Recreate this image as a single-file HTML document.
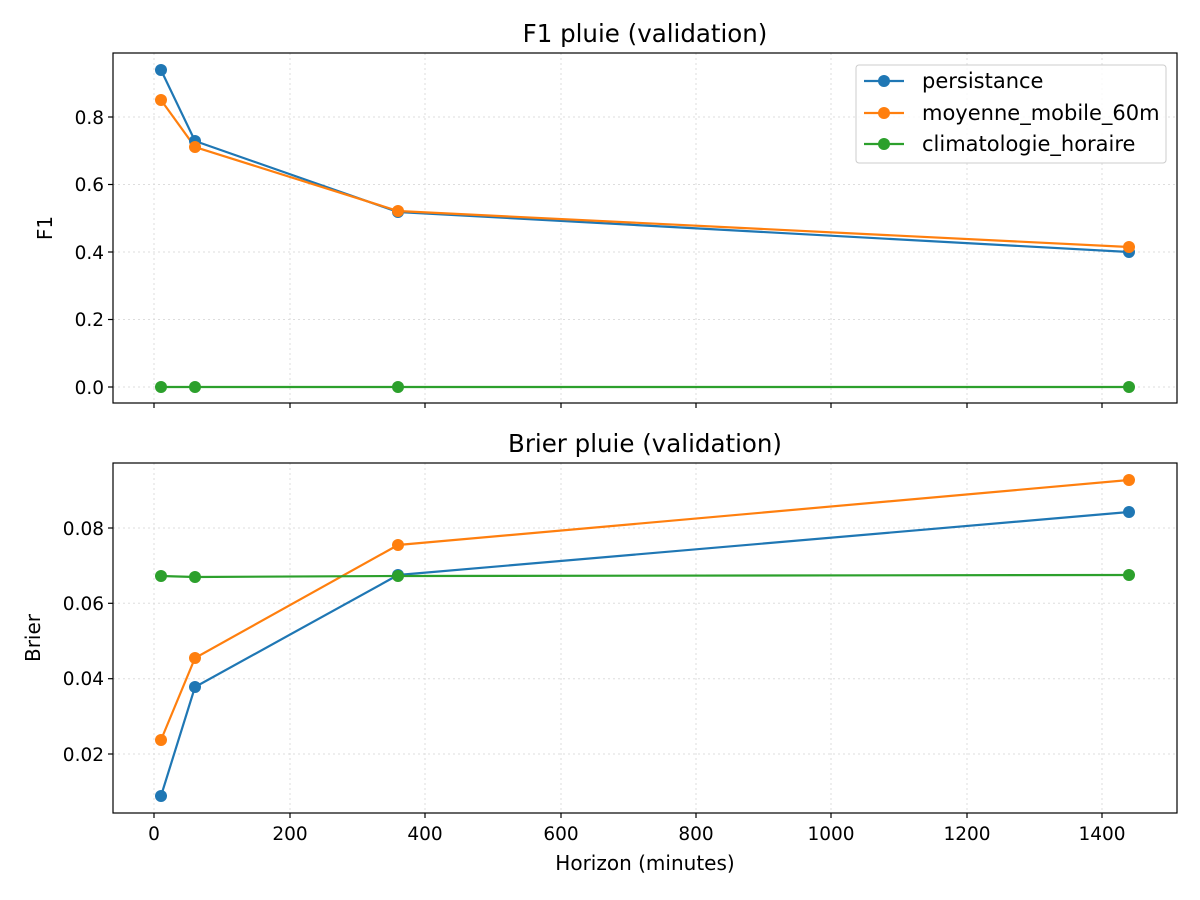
<!DOCTYPE html>
<html><head><meta charset="utf-8"><style>body{margin:0;background:#fff}svg{display:block}text{font-family:"DejaVu Sans","Liberation Sans",sans-serif;fill:#000}</style></head><body>
<svg width="1200" height="900" xmlns="http://www.w3.org/2000/svg">
<rect width="1200" height="900" fill="#fff"/>
<g stroke="#ddd" stroke-width="1" stroke-dasharray="2,3">
<line x1="154" y1="53" x2="154" y2="403"/><line x1="290" y1="53" x2="290" y2="403"/><line x1="425" y1="53" x2="425" y2="403"/><line x1="561" y1="53" x2="561" y2="403"/><line x1="696" y1="53" x2="696" y2="403"/><line x1="831" y1="53" x2="831" y2="403"/><line x1="967" y1="53" x2="967" y2="403"/><line x1="1102" y1="53" x2="1102" y2="403"/>
<line x1="113" y1="387" x2="1177" y2="387"/><line x1="113" y1="319.5" x2="1177" y2="319.5"/><line x1="113" y1="252" x2="1177" y2="252"/><line x1="113" y1="184.5" x2="1177" y2="184.5"/><line x1="113" y1="117" x2="1177" y2="117"/>
<line x1="154" y1="463" x2="154" y2="813"/><line x1="290" y1="463" x2="290" y2="813"/><line x1="425" y1="463" x2="425" y2="813"/><line x1="561" y1="463" x2="561" y2="813"/><line x1="696" y1="463" x2="696" y2="813"/><line x1="831" y1="463" x2="831" y2="813"/><line x1="967" y1="463" x2="967" y2="813"/><line x1="1102" y1="463" x2="1102" y2="813"/>
<line x1="113" y1="754" x2="1177" y2="754"/><line x1="113" y1="678.7" x2="1177" y2="678.7"/><line x1="113" y1="603.3" x2="1177" y2="603.3"/><line x1="113" y1="528" x2="1177" y2="528"/>
</g>
<g stroke-width="2.2" fill="none">
<polyline stroke="#1f77b4" points="161,70 195,141 398,212 1129,252"/>
<polyline stroke="#ff7f0e" points="161,100 195,147 398,211 1129,247"/>
<polyline stroke="#2ca02c" points="161,387 195,387 398,387 1129,387"/>
<polyline stroke="#1f77b4" points="161,796 195,687 398,575 1129,512"/>
<polyline stroke="#ff7f0e" points="161,740 195,658 398,545 1129,480"/>
<polyline stroke="#2ca02c" points="161,576 195,577 398,576 1129,575"/>
</g>
<g fill="#1f77b4"><circle cx="161" cy="70" r="6"/><circle cx="195" cy="141" r="6"/><circle cx="398" cy="212" r="6"/><circle cx="1129" cy="252" r="6"/>
<circle cx="161" cy="796" r="6"/><circle cx="195" cy="687" r="6"/><circle cx="398" cy="575" r="6"/><circle cx="1129" cy="512" r="6"/></g>
<g fill="#ff7f0e"><circle cx="161" cy="100" r="6"/><circle cx="195" cy="147" r="6"/><circle cx="398" cy="211" r="6"/><circle cx="1129" cy="247" r="6"/>
<circle cx="161" cy="740" r="6"/><circle cx="195" cy="658" r="6"/><circle cx="398" cy="545" r="6"/><circle cx="1129" cy="480" r="6"/></g>
<g fill="#2ca02c"><circle cx="161" cy="387" r="6"/><circle cx="195" cy="387" r="6"/><circle cx="398" cy="387" r="6"/><circle cx="1129" cy="387" r="6"/>
<circle cx="161" cy="576" r="6"/><circle cx="195" cy="577" r="6"/><circle cx="398" cy="576" r="6"/><circle cx="1129" cy="575" r="6"/></g>
<rect x="113" y="53" width="1064" height="350" fill="none" stroke="#000" stroke-width="1.2"/>
<rect x="113" y="463" width="1064" height="350" fill="none" stroke="#000" stroke-width="1.2"/>
<g stroke="#000" stroke-width="1.2">
<line x1="154" y1="403" x2="154" y2="408"/><line x1="290" y1="403" x2="290" y2="408"/><line x1="425" y1="403" x2="425" y2="408"/><line x1="561" y1="403" x2="561" y2="408"/><line x1="696" y1="403" x2="696" y2="408"/><line x1="831" y1="403" x2="831" y2="408"/><line x1="967" y1="403" x2="967" y2="408"/><line x1="1102" y1="403" x2="1102" y2="408"/>
<line x1="154" y1="813" x2="154" y2="818"/><line x1="290" y1="813" x2="290" y2="818"/><line x1="425" y1="813" x2="425" y2="818"/><line x1="561" y1="813" x2="561" y2="818"/><line x1="696" y1="813" x2="696" y2="818"/><line x1="831" y1="813" x2="831" y2="818"/><line x1="967" y1="813" x2="967" y2="818"/><line x1="1102" y1="813" x2="1102" y2="818"/>
<line x1="108" y1="387" x2="113" y2="387"/><line x1="108" y1="319.5" x2="113" y2="319.5"/><line x1="108" y1="252" x2="113" y2="252"/><line x1="108" y1="184.5" x2="113" y2="184.5"/><line x1="108" y1="117" x2="113" y2="117"/>
<line x1="108" y1="754" x2="113" y2="754"/><line x1="108" y1="678.7" x2="113" y2="678.7"/><line x1="108" y1="603.3" x2="113" y2="603.3"/><line x1="108" y1="528" x2="113" y2="528"/>
</g>
<g font-size="18.5" text-anchor="end">
<text x="104" y="394">0.0</text><text x="104" y="326">0.2</text><text x="104" y="259">0.4</text><text x="104" y="191">0.6</text><text x="104" y="124">0.8</text>
<text x="104" y="761">0.02</text><text x="104" y="685">0.04</text><text x="104" y="610">0.06</text><text x="104" y="535">0.08</text>
</g>
<g font-size="18.5" text-anchor="middle">
<text x="154" y="840">0</text><text x="290" y="840">200</text><text x="425" y="840">400</text><text x="561" y="840">600</text><text x="696" y="840">800</text><text x="831" y="840">1000</text><text x="967" y="840">1200</text><text x="1102" y="840">1400</text>
</g>
<g font-size="20" text-anchor="middle">
<text x="645" y="870">Horizon (minutes)</text>
<text x="645" y="42" font-size="24.5">F1 pluie (validation)</text>
<text x="645" y="452" font-size="24.5">Brier pluie (validation)</text>
<text transform="translate(52,228) rotate(-90)">F1</text>
<text transform="translate(40,638) rotate(-90)">Brier</text>
</g>
<rect x="856" y="65" width="310" height="98" rx="3" fill="#fff" fill-opacity="0.8" stroke="#ccc"/>
<g stroke-width="2.2">
<line x1="864" y1="81" x2="904" y2="81" stroke="#1f77b4"/><circle cx="884" cy="81" r="6" fill="#1f77b4"/>
<line x1="864" y1="113" x2="904" y2="113" stroke="#ff7f0e"/><circle cx="884" cy="113" r="6" fill="#ff7f0e"/>
<line x1="864" y1="144" x2="904" y2="144" stroke="#2ca02c"/><circle cx="884" cy="144" r="6" fill="#2ca02c"/>
</g>
<g font-size="21"><text x="922" y="88">persistance</text><text x="922" y="120">moyenne_mobile_60m</text><text x="922" y="151">climatologie_horaire</text></g>
</svg>
</body></html>
